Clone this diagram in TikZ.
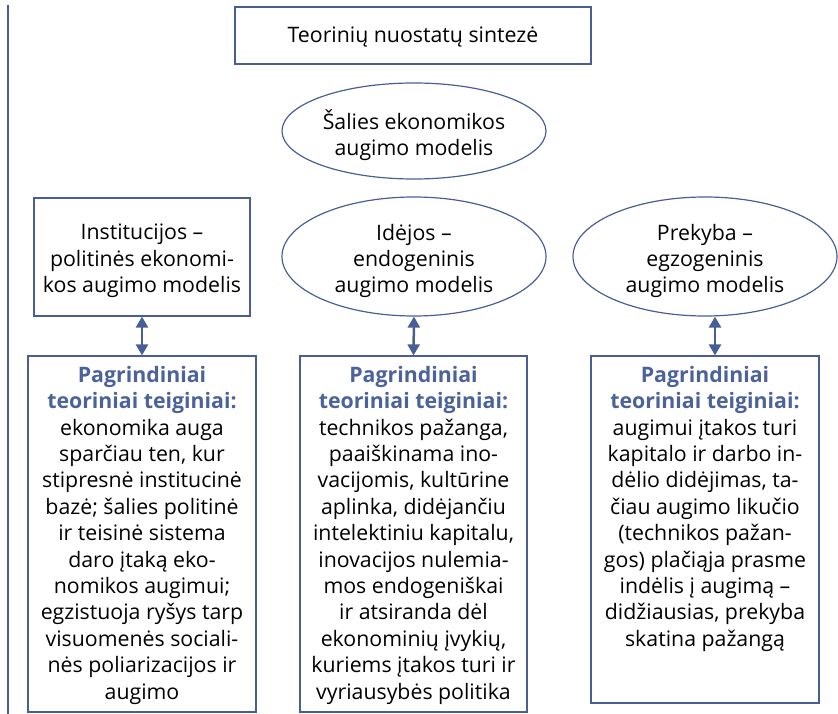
\documentclass[tikz,border=0pt]{standalone}
\usepackage{fontspec}
\setmainfont{Open Sans}
\usetikzlibrary{arrows.meta,shapes.geometric}
\definecolor{frame}{RGB}{72,94,150}
\definecolor{head}{RGB}{75,99,154}
\begin{document}
\begin{tikzpicture}[x=1pt,y=-1pt,
 box/.style={draw=frame,line width=1.2pt,rectangle,inner sep=0pt},
 oval/.style={draw=frame,line width=1.2pt,ellipse,inner sep=0pt},
 txt/.style={align=center,font=\fontsize{21.3}{26.4}\selectfont,inner sep=0pt},
 link/.style={draw=frame,line width=2.5pt,{Triangle[width=12pt,length=11pt]}-{Triangle[width=12pt,length=11pt]}}]
\useasboundingbox (0,0) rectangle (838,714);
\coordinate (lt) at (8,5);
\coordinate (lb) at (8,714);
\draw[frame,line width=2pt] (lt) -- (lb);
% title
\node[box,minimum width=356pt,minimum height=57pt] (title) at (413,35.5) {};
\node[txt] (titlet) at (413,37) {Teorinių nuostatų sintezė};
% top ellipse
\node[oval,minimum width=264pt,minimum height=96pt] (main) at (414,131) {};
\node[txt] (maint) at (414,135) {Šalies ekonomikos\\augimo modelis};
% second row
\node[box,minimum width=216pt,minimum height=118pt] (inst) at (142,257) {};
\node[txt] (instt) at (142,261) {Institucijos –\\politinės ekonomi-\\kos augimo modelis};
\node[oval,minimum width=264pt,minimum height=119pt] (idea) at (414,256.5) {};
\node[txt] (ideat) at (414,261) {Idėjos –\\endogeninis\\augimo modelis};
\node[oval,minimum width=264pt,minimum height=119pt] (trade) at (705,256.5) {};
\node[txt] (tradet) at (705,261) {Prekyba –\\egzogeninis\\augimo modelis};
% bottom boxes
\node[box,minimum width=228pt,minimum height=356pt] (b1) at (142,534) {};
\node[box,minimum width=227pt,minimum height=356pt] (b2) at (413.5,534) {};
\node[box,minimum width=228pt,minimum height=347pt] (b3) at (705,529.5) {};
\node[txt,anchor=north] (b1t) at (142,366) {{\color{head}\bfseries Pagrindiniai}\\{\color{head}\bfseries teoriniai teiginiai:}\\ekonomika auga\\sparčiau ten, kur\\stipresnė institucinė\\bazė; šalies politinė\\ir teisinė sistema\\daro įtaką eko-\\nomikos augimui;\\egzistuoja ryšys tarp\\visuomenės sociali-\\nės poliarizacijos ir\\augimo};
\node[txt,anchor=north] (b2t) at (413.5,366) {{\color{head}\bfseries Pagrindiniai}\\{\color{head}\bfseries teoriniai teiginiai:}\\technikos pažanga,\\paaiškinama ino-\\vacijomis, kultūrine\\aplinka, didėjančiu\\intelektiniu kapitalu,\\inovacijos nulemia-\\mos endogeniškai\\ir atsiranda dėl\\ekonominių įvykių,\\kuriems įtakos turi ir\\vyriausybės politika};
\node[txt,anchor=north] (b3t) at (705,366) {{\color{head}\bfseries Pagrindiniai}\\{\color{head}\bfseries teoriniai teiginiai:}\\augimui įtakos turi\\kapitalo ir darbo in-\\dėlio didėjimas, ta-\\čiau augimo likučio\\(technikos pažan-\\gos) plačiąja prasme\\indėlis į augimą –\\didžiausias, prekyba\\skatina pažangą};
% arrows
\draw[link] (inst.south) -- (b1.north);
\draw[link] (idea.south) -- (b2.north);
\draw[link] ([xshift=10pt]trade.south) -- ([xshift=10pt]b3.north);
\end{tikzpicture}
\end{document}
